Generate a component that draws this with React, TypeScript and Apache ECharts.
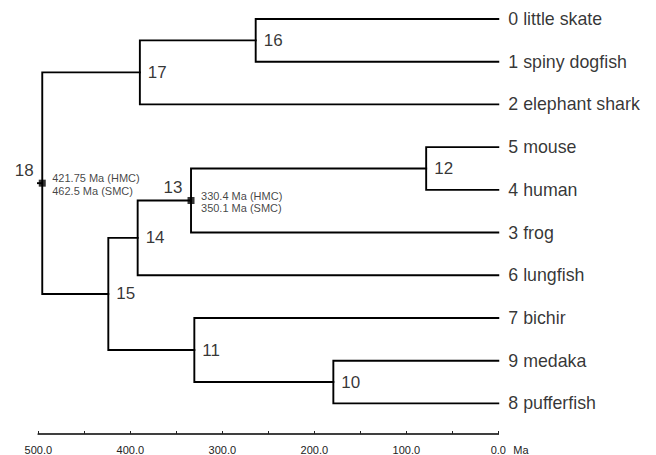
import React, { useEffect, useRef } from "react";
import * as echarts from "echarts";

// Leaves, top to bottom
const leafLabels = [
  "0 little skate",
  "1 spiny dogfish",
  "2 elephant shark",
  "5 mouse",
  "4 human",
  "3 frog",
  "6 lungfish",
  "7 bichir",
  "9 medaka",
  "8 pufferfish",
];

// Internal nodes (Ma) and their children (L = leaf index, N = node name)
const nodeNames = ["16", "17", "12", "13", "14", "10", "11", "15", "18"];
const nodeAges = [263.7, 389.6, 78.4, 334.0, 392.0, 179.3, 330.4, 423.9, 495.7];
const nodeChildren = [
  ["L0", "L1"],
  ["N16", "L2"],
  ["L3", "L4"],
  ["N12", "L5"],
  ["N13", "L6"],
  ["L8", "L9"],
  ["L7", "N10"],
  ["N14", "N11"],
  ["N17", "N15"],
];
const rootName = "18";
const rootStubAge = 520;

// Calibrated nodes with divergence time annotations
const markedNodes = ["18", "13"];
const markedTexts = [
  ["421.75 Ma (HMC)", "462.5 Ma (SMC)"],
  ["330.4 Ma (HMC)", "350.1 Ma (SMC)"],
];

const axisMin = 0;
const axisMax = 500;
const axisInterval = 100;
const axisUnit = "Ma";

const FONT = "'Liberation Sans', Arial, Helvetica, sans-serif";
const LINE = "#000";

function posOf(id: string): [number, number] {
  if (id[0] === "L") return [0, Number(id.slice(1))];
  const k = nodeNames.indexOf(id.slice(1));
  const ys = nodeChildren[k].map((c) => posOf(c)[1]);
  return [nodeAges[k], (ys[0] + ys[1]) / 2];
}

export default function App() {
  const ref = useRef<HTMLDivElement>(null);
  useEffect(() => {
    if (!ref.current) return;
    const chart = echarts.init(ref.current, null, { renderer: "svg" });

    const branchSeries: any[] = nodeNames.map((n, k) => {
      const [a, b] = nodeChildren[k].map(posOf);
      const age = nodeAges[k];
      return {
        type: "line",
        data: [
          [a[0], a[1]],
          [age, a[1]],
          [age, b[1]],
          [b[0], b[1]],
        ],
        symbol: "none",
        clip: false,
        silent: true,
        lineStyle: { color: LINE, width: 1.9, cap: "square", join: "miter" },
      };
    });
    const rootPos = posOf("N" + rootName);
    branchSeries.push({
      type: "line",
      data: [
        [rootStubAge, rootPos[1]],
        [rootPos[0], rootPos[1]],
      ],
      symbol: "none",
      clip: false,
      lineStyle: { color: LINE, width: 1.9 },
    });

    const nodeLabelData = nodeNames.map((n) => {
      const p = posOf("N" + n);
      const marked = markedNodes.includes(n);
      return {
        value: p,
        name: n,
        symbol: "rect",
        symbolSize: marked ? 7 : 0,
        itemStyle: { color: "#000" },
        label: marked
          ? { position: "left", distance: 5, offset: [0, -13] }
          : { position: "right", distance: 8 },
      };
    });

    const annotationData = markedNodes.map((n, i) => ({
      value: posOf("N" + n),
      name: markedTexts[i].join("\n"),
    }));

    chart.setOption({
      animation: false,
      grid: { left: 38.3, right: 157.7, top: 19, bottom: 51.3, containLabel: false },
      xAxis: {
        type: "value",
        inverse: true,
        position: "bottom",
        min: axisMin,
        max: axisMax,
        interval: axisInterval,
        offset: 30.6,
        name: axisUnit,
        nameLocation: "start",
        nameGap: 15,
        nameTextStyle: {
          fontFamily: FONT,
          fontSize: 11,
          color: "#222",
          align: "left",
          verticalAlign: "top",
          padding: [10, 0, 0, 0],
        },
        splitLine: { show: false },
        axisLine: { show: true, onZero: false, lineStyle: { color: "#000", width: 1.7 } },
        axisTick: { show: true, inside: true, length: 3, lineStyle: { color: "#222" } },
        minorTick: { show: true, splitNumber: 2, length: 3, lineStyle: { color: "#222" } },
        axisLabel: {
          margin: 10,
          fontFamily: FONT,
          fontSize: 11,
          color: "#222",
          formatter: (v: number) => v.toFixed(1),
        },
      },
      yAxis: {
        type: "value",
        inverse: true,
        min: 0,
        max: leafLabels.length - 1,
        show: false,
      },
      series: [
        ...branchSeries,
        {
          type: "scatter",
          data: leafLabels.map((name, i) => ({ value: [0, i], name })),
          symbolSize: 0,
          clip: false,
          label: {
            show: true,
            position: "right",
            distance: 10,
            formatter: "{b}",
            fontFamily: FONT,
            fontSize: 17.8,
            color: "#000",
          },
        },
        {
          type: "scatter",
          data: nodeLabelData,
          clip: false,
          z: 5,
          label: {
            show: true,
            formatter: "{b}",
            fontFamily: FONT,
            fontSize: 17,
            color: "#000",
          },
        },
        {
          type: "scatter",
          data: annotationData,
          symbolSize: 0,
          clip: false,
          label: {
            show: true,
            position: "right",
            distance: 10,
            offset: [0, 1.5],
            formatter: "{b}",
            fontFamily: FONT,
            fontSize: 11,
            lineHeight: 12.6,
            color: "#111",
          },
        },
      ],
    });
    return () => chart.dispose();
  }, []);
  return (
    <div
      ref={ref}
      style={{ position: "absolute", left: 0, top: 0, width: 656, height: 455, background: "#fff" }}
    />
  );
}
